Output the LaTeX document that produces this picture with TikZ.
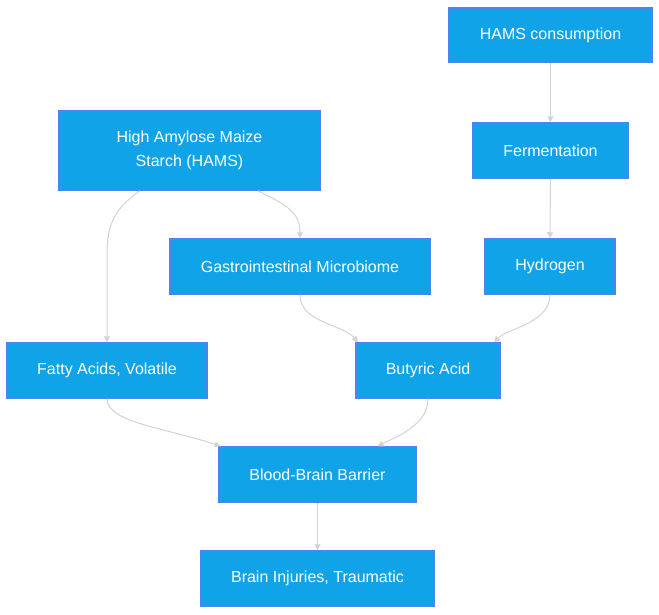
\documentclass[tikz,border=0pt]{standalone}
\usepackage{fontspec}
\setmainfont{Liberation Sans}
\usetikzlibrary{arrows.meta}
\definecolor{boxfill}{HTML}{10A3E8}
\definecolor{boxline}{HTML}{4F82F2}
\definecolor{edge}{HTML}{D3D3D3}
\begin{document}
\begin{tikzpicture}[x=1pt,y=-1pt,
  box/.style={draw=boxline,line width=1.5pt,fill=boxfill,text=white,font=\fontsize{16}{24}\selectfont,align=center,inner sep=0pt,anchor=center},
  link/.style={draw=edge,line width=1pt,-{Triangle[length=6pt,width=6pt]}}]
\useasboundingbox (0,0) rectangle (659,614);
\node[box,minimum width=203pt,minimum height=54pt] (cons) at (550.5,35) {HAMS consumption};
\node[box,minimum width=261pt,minimum height=79pt] (hams) at (189.5,150.5) {High Amylose Maize\\Starch (HAMS)};
\node[box,minimum width=155pt,minimum height=55pt] (ferm) at (550.5,150.5) {Fermentation};
\node[box,minimum width=260pt,minimum height=55pt] (gi) at (300,266.5) {Gastrointestinal Microbiome};
\node[box,minimum width=130pt,minimum height=55pt] (hyd) at (550,266.5) {Hydrogen};
\node[box,minimum width=200pt,minimum height=55pt] (fat) at (107,370.5) {Fatty Acids, Volatile};
\node[box,minimum width=144pt,minimum height=55pt] (but) at (428,370.5) {Butyric Acid};
\node[box,minimum width=197pt,minimum height=55pt] (bbb) at (317.5,474.5) {Blood-Brain Barrier};
\node[box,minimum width=233pt,minimum height=55pt] (tbi) at (317.5,578.5) {Brain Injuries, Traumatic};
\draw[link] (cons.south) -- (ferm.north);
\draw[link] (ferm.south) -- (hyd.north);
\draw[link] ([xshift=-49.5pt]hams.south) .. controls ([xshift=-74.5pt,yshift=-18pt]hams.south) and ([xshift=-82.5pt,yshift=-32pt]hams.south) .. ([xshift=-82.5pt,yshift=-65pt]hams.south) -- (fat.north);
\draw[link] ([xshift=68.5pt]hams.south) .. controls ([xshift=98.5pt,yshift=-15pt]hams.south) and ([xshift=110.5pt,yshift=-22pt]hams.south) .. (gi.north);
\draw[link] (gi.south) .. controls ([yshift=-28pt]gi.south) and ([xshift=-85pt,yshift=18pt]but.north) .. ([xshift=-70pt]but.north);
\draw[link] (hyd.south) .. controls ([yshift=-28pt]hyd.south) and ([xshift=80pt,yshift=14pt]but.north) .. ([xshift=66pt]but.north);
\draw[link] (fat.south) .. controls ([yshift=-24pt]fat.south) and ([xshift=-150pt,yshift=18pt]bbb.north) .. ([xshift=-97pt]bbb.north);
\draw[link] (but.south) .. controls ([yshift=-26pt]but.south) and ([xshift=80pt,yshift=10pt]bbb.north) .. ([xshift=60pt]bbb.north);
\draw[link] (bbb.south) -- (tbi.north);
\end{tikzpicture}
\end{document}
